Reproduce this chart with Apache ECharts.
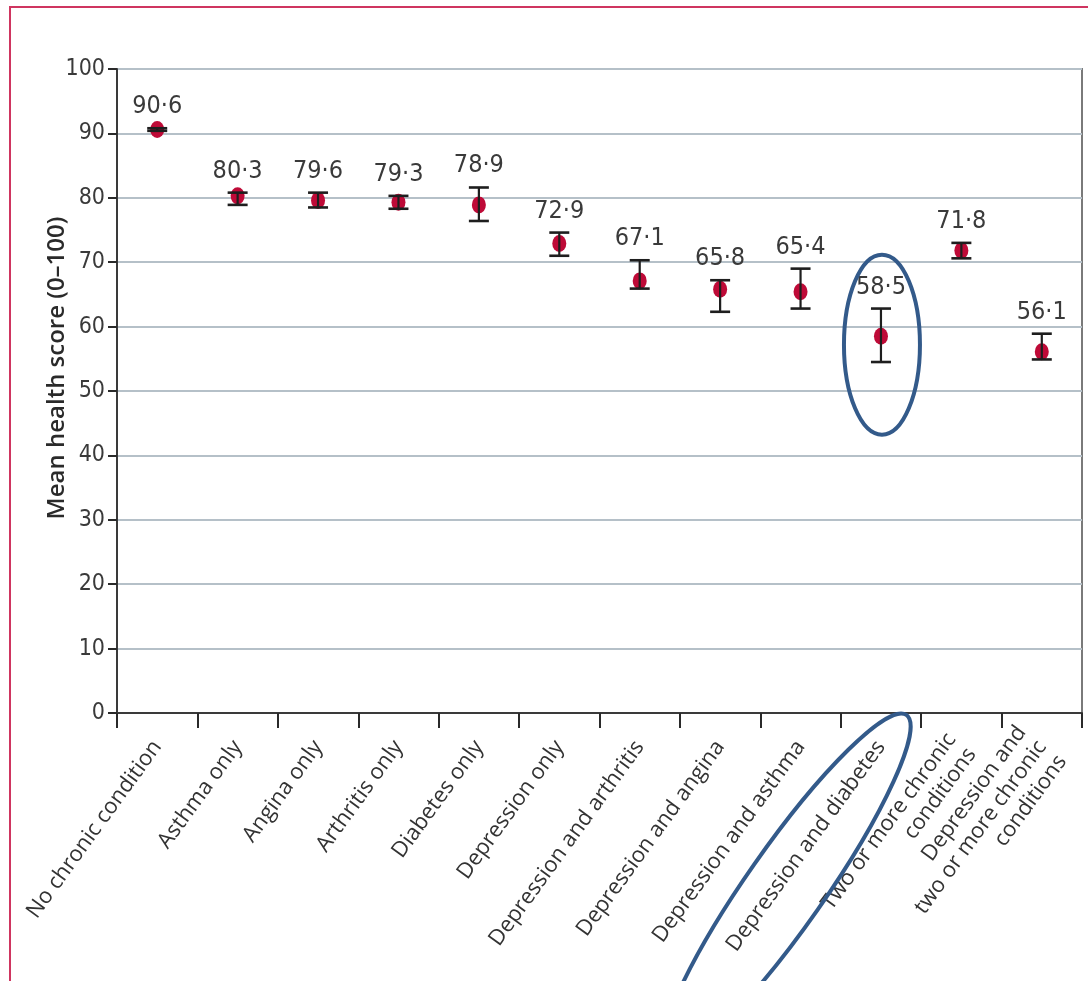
<!DOCTYPE html>
<html>
<head>
<meta charset="utf-8">
<script src="https://cdn.jsdelivr.net/npm/echarts@6/dist/echarts.min.js"></script>
<style>
html,body{margin:0;padding:0;background:#fff;}
#chart{width:1088px;height:981px;}
</style>
</head>
<body>
<div id="chart"></div>
<script>
// ---- data ----
const categories = [
  'No chronic condition',
  'Asthma only',
  'Angina only',
  'Arthritis only',
  'Diabetes only',
  'Depression only',
  'Depression and arthritis',
  'Depression and angina',
  'Depression and asthma',
  'Depression and diabetes',
  'Two or more chronic\nconditions',
  'Depression and\ntwo or more chronic\nconditions'
];
const means = [90.6, 80.3, 79.6, 79.3, 78.9, 72.9, 67.1, 65.8, 65.4, 58.5, 71.8, 56.1];
const lowerCI = [90.4, 78.9, 78.5, 78.3, 76.4, 71.0, 65.9, 62.3, 62.8, 54.5, 70.6, 54.9];
const upperCI = [90.8, 80.8, 80.8, 80.3, 81.6, 74.6, 70.3, 67.2, 69.0, 62.8, 73.0, 58.9];
const yTicks = [0, 10, 20, 30, 40, 50, 60, 70, 80, 90, 100];
const highlightIndex = 9;

const NARROW = '"DejaVu Sans Condensed", "Liberation Sans Narrow", sans-serif';
const REG = '"Open Sans", "Noto Sans", sans-serif';

const chart = echarts.init(document.getElementById('chart'));

const fmt = v => v.toFixed(1).replace('.', '\u00b7');

const option = {
  animation: false,
  backgroundColor: '#ffffff',
  grid: {
    left: 117, right: 6, top: 69, bottom: 268,
    show: true, borderColor: '#7a7a7a', borderWidth: 2, backgroundColor: 'transparent'
  },
  xAxis: {
    type: 'category',
    data: categories,
    boundaryGap: true,
    axisLine: { lineStyle: { color: '#3a3a3a', width: 2 } },
    axisTick: { show: true, length: 15, lineStyle: { color: '#2a2a2a', width: 2 } },
    axisLabel: {
      interval: 0,
      rotate: 54,
      margin: 30,
      color: '#333',
      fontFamily: REG,
      fontSize: 22,
      lineHeight: 25
    },
    splitLine: { show: false }
  },
  yAxis: {
    type: 'value',
    min: yTicks[0],
    max: yTicks[yTicks.length - 1],
    interval: 10,
    name: 'Mean health score (0\u2013100)',
    nameLocation: 'middle',
    nameRotate: 90,
    nameGap: 48,
    nameMoveOverlap: false,
    nameTextStyle: { fontFamily: REG, fontSize: 24, fontWeight: 600, color: '#2a2a2a', padding: [0, 0, 0, 46] },
    axisLine: { show: true, lineStyle: { color: '#3a3a3a', width: 2 } },
    axisTick: { show: true, length: 9, inside: false, lineStyle: { color: '#2a2a2a', width: 2 } },
    axisLabel: { color: '#3a3a3a', fontFamily: NARROW, fontSize: 23, margin: 12 },
    splitLine: { show: true, lineStyle: { color: '#b5c0c8', width: 2 } }
  },
  series: [
    {
      type: 'scatter',
      data: means.map((m, i) => [i, m]),
      symbol: 'circle',
      symbolSize: [14, 17],
      itemStyle: { color: '#be0a37', opacity: 1 },
      z: 3
    },
    {
      type: 'custom',
      z: 5,
      data: means.map((m, i) => [i, lowerCI[i], upperCI[i], m]),
      encode: { x: 0, y: [1, 2] },
      renderItem: function (params, api) {
        const i = api.value(0);
        const lo = api.coord([i, api.value(1)]);
        const hi = api.coord([i, api.value(2)]);
        const capW = 10;
        const st = { stroke: '#1e1e1e', lineWidth: 2.2 };
        return {
          type: 'group',
          children: [
            { type: 'line', shape: { x1: lo[0], y1: lo[1], x2: hi[0], y2: hi[1] }, style: st },
            { type: 'line', shape: { x1: lo[0] - capW, y1: lo[1], x2: lo[0] + capW, y2: lo[1] }, style: { stroke: '#1e1e1e', lineWidth: 2.6 } },
            { type: 'line', shape: { x1: hi[0] - capW, y1: hi[1], x2: hi[0] + capW, y2: hi[1] }, style: { stroke: '#1e1e1e', lineWidth: 2.6 } },
            {
              type: 'text',
              x: hi[0], y: hi[1] - 9,
              style: {
                text: fmt(api.value(3)),
                textAlign: 'center', textVerticalAlign: 'bottom',
                fontFamily: NARROW, fontSize: 25, fill: '#3a3a3a'
              }
            }
          ]
        };
      }
    }
  ]
};

chart.setOption(option);

// annotation ellipses anchored to the highlighted category
const hp = chart.convertToPixel({ xAxisIndex: 0, yAxisIndex: 0 }, [highlightIndex, 57.2]);
const axisBase = chart.convertToPixel({ xAxisIndex: 0, yAxisIndex: 0 }, [highlightIndex, 0]);
chart.setOption({
  graphic: [
    {
      type: 'ellipse',
      shape: { cx: hp[0] + 1, cy: hp[1], rx: 38, ry: 90 },
      style: { fill: 'none', stroke: '#335a8a', lineWidth: 4 },
      z: 10
    },
    {
      type: 'ellipse',
      x: axisBase[0] - 95, y: axisBase[1] + 174,
      rotation: 55 * Math.PI / 180,
      shape: { cx: 0, cy: 0, rx: 210, ry: 39 },
      style: { fill: 'none', stroke: '#335a8a', lineWidth: 4 },
      z: 10
    },
    {
      type: 'polyline',
      shape: { points: [[10, 981], [10, 7], [1088, 7]] },
      style: { stroke: '#cf3560', lineWidth: 2, fill: 'none' },
      z: 10
    }
  ]
});
</script>
</body>
</html>
